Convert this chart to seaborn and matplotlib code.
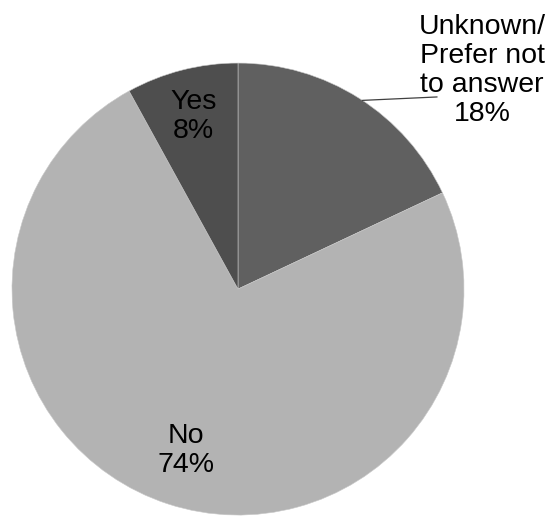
import numpy as np
import matplotlib
matplotlib.use("Agg")
import matplotlib.pyplot as plt
import seaborn as sns

# Survey responses
categories = ["Unknown/\nPrefer not\nto answer", "No", "Yes"]
shares = [18, 74, 8]
colors = ["#606060", "#b3b3b3", "#4e4e4e"]

sns.set_theme(style="white")
plt.rcParams["font.family"] = ["Liberation Sans", "DejaVu Sans"]

fig = plt.figure(figsize=(5.49, 5.18), dpi=100)
ax = fig.add_axes([0, 0, 1, 1])

start = 90
wedges, _ = ax.pie(shares, colors=colors, startangle=start, counterclock=False,
                   radius=1.0, wedgeprops=dict(linewidth=0.4, edgecolor="#c8c8c8"))

ax.set_xlim(-1.053, 1.376)
ax.set_ylim(-1.013, 1.279)
ax.set_aspect("equal")
ax.axis("off")

# Inside labels for "No" and "Yes" at the middle of each wedge
total = sum(shares)
angles = []
a = start
for v in shares:
    span = 360 * v / total
    angles.append(a - span / 2)
    a -= span

label_r = {1: 0.75, 2: 0.79}
for i, r in label_r.items():
    th = np.deg2rad(angles[i])
    ax.text(r * np.cos(th), r * np.sin(th), f"{categories[i]}\n{shares[i]}%",
            ha="center", va="center", fontsize=20.5, color="black", linespacing=1.15)

# Outside label with leader line for the first wedge
th0 = np.deg2rad(56.6)
edge = (np.cos(th0), np.sin(th0))
ax.plot([edge[0], 0.881], [edge[1], 0.85], color="#404040", linewidth=0.9)
ax.text(1.08, 0.969, f"{categories[0]}\n{shares[0]}%", ha="center", va="center",
        fontsize=20.5, color="black", linespacing=1.15)

fig.savefig("out.png", dpi=100, facecolor="white")
